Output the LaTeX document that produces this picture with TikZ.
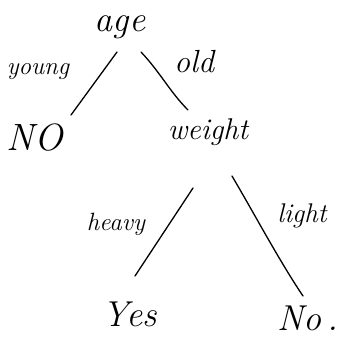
\documentclass[tikz,border=0pt]{standalone}
\usepackage{fontspec}
\begin{document}
\begin{tikzpicture}[x=1pt,y=-1pt,
  hand/.style={inner sep=0pt,font=\itshape},
  branch/.style={line width=1.3pt,line cap=round}]
\useasboundingbox (0,0) rectangle (346,343);
\fill[white] (0,0) rectangle (346,343);
% nodes
\node[hand,font=\fontsize{36}{36}\selectfont\itshape] (age) at (120,27) {age};
\node[hand,font=\fontsize{25}{25}\selectfont\itshape] (young) at (38,72) {young};
\node[hand,font=\fontsize{32}{32}\selectfont\itshape] (old) at (194,62) {old};
\node[hand,font=\fontsize{38}{38}\selectfont\itshape] (no1) at (35,138) {NO};
\node[hand,font=\fontsize{30}{30}\selectfont\itshape] (weight) at (208,132) {weight};
\node[hand,font=\fontsize{25}{25}\selectfont\itshape] (heavy) at (116,224) {heavy};
\node[hand,font=\fontsize{27}{27}\selectfont\itshape] (light) at (302,216) {light};
\node[hand,font=\fontsize{36}{36}\selectfont\itshape] (yes) at (130,314) {Yes};
\node[hand,font=\fontsize{36}{36}\selectfont\itshape] (no2) at (308,318) {No\,.};
% connector end points
\coordinate (e1s) at (117,52);  \coordinate (e1e) at (71,115);
\coordinate (e2s) at (141,52);  \coordinate (e2e) at (188,110);
\coordinate (e3s) at (193,188); \coordinate (e3e) at (135,276);
\coordinate (e4s) at (232,176); \coordinate (e4e) at (303,296);
% connectors
\draw[branch] (e1s) -- (e1e);
\draw[branch] (e2s) .. controls (160,72) and (170,92) .. (e2e);
\draw[branch] (e3s) -- (e3e);
\draw[branch] (e4s) .. controls (255,215) and (280,262) .. (e4e);
\end{tikzpicture}
\end{document}
